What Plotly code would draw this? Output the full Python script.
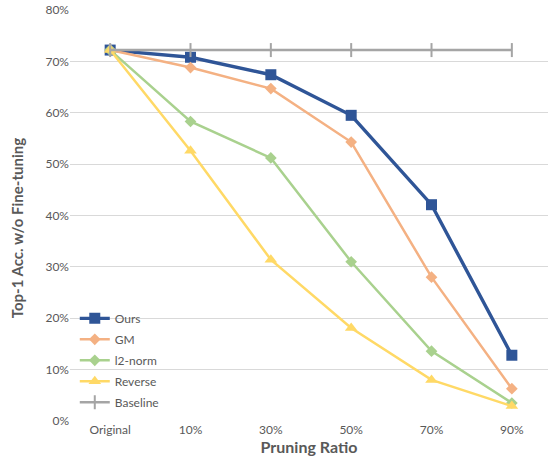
import plotly.graph_objects as go

categories = ["Original", "10%", "30%", "50%", "70%", "90%"]
ours = [72.2, 70.8, 67.4, 59.5, 42.1, 12.8]
gm = [72.2, 68.8, 64.7, 54.3, 28.0, 6.3]
l2_norm = [72.2, 58.3, 51.2, 31.0, 13.6, 3.5]
reverse = [72.2, 52.6, 31.4, 18.1, 8.0, 2.9]
baseline = [72.2, 72.2, 72.2, 72.2, 72.2, 72.2]

series = [
    ("Ours", ours, "#2F5597", 3.4, "square", 11),
    ("GM", gm, "#F4B183", 2.5, "diamond", 9),
    ("l2-norm", l2_norm, "#A9D18E", 2.5, "diamond", 9),
    ("Reverse", reverse, "#FFD966", 2.5, "triangle-up", 11),
    ("Baseline", baseline, "#A5A5A5", 2.5, "line-ns", 10),
]

fig = go.Figure()
for name, vals, color, lw, sym, ms in series:
    fig.add_trace(go.Scatter(
        x=categories, y=vals, name=name, mode="lines+markers",
        legendgroup=name,
        line=dict(color=color, width=lw),
        marker=dict(symbol=sym, size=ms, color=color,
                    line=dict(color=color, width=2 if sym == "line-ns" else 0)),
    ))

font_family = "Lato, 'Open Sans', sans-serif"
fig.update_layout(
    width=548, height=467,
    margin=dict(l=70, r=0, t=10, b=46),
    paper_bgcolor="white", plot_bgcolor="white",
    font=dict(family=font_family, color="#595959", size=12),
    showlegend=True,
    legend=dict(x=0.01, y=0.285, xanchor="left", yanchor="top",
                bgcolor="rgba(0,0,0,0)", font=dict(size=12, color="#595959"),
                itemwidth=30, tracegroupgap=2),
    xaxis=dict(type="category", range=[-0.5, 5.45], showgrid=False,
               showline=False, ticks="", tickfont=dict(size=12),
               title=dict(text="<b>Pruning Ratio</b>", font=dict(size=16), standoff=4)),
    yaxis=dict(range=[0, 80], dtick=10, ticksuffix="%", showgrid=True,
               gridcolor="#D9D9D9", gridwidth=1, zeroline=False, showline=False,
               tickfont=dict(size=12), ticks=""),
    annotations=[dict(
        text="<b>Top-1 Acc. w/o Fine-tuning</b>", textangle=-90,
        xref="paper", yref="paper", x=-0.112, y=0.47,
        xanchor="center", yanchor="middle", showarrow=False,
        font=dict(size=15, color="#595959"),
    )],
)

fig.write_html("out.html")
